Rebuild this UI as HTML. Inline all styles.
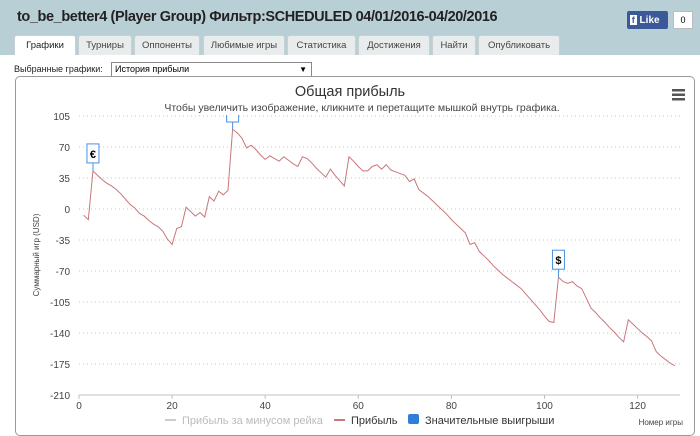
<!DOCTYPE html>
<html><head><meta charset="utf-8"><style>
body{margin:0;width:700px;height:427px;overflow:hidden;background:#fff;font-family:"Liberation Sans","DejaVu Sans",sans-serif;position:relative}
#hdr{position:absolute;left:0;top:0;width:700px;height:55px;background:#b9cfd6}
#title{position:absolute;left:17px;top:9px;font-size:14.5px;font-weight:bold;color:#222;letter-spacing:-0.4px}
.tab{position:absolute;top:35px;height:20px;background:#e9eced;border:1px solid #c8d0d3;border-bottom:none;border-radius:3px 3px 0 0;font-size:9.5px;color:#444;text-align:center;line-height:20px;box-sizing:border-box}
.tab.act{background:#fff;color:#222}
#fb{position:absolute;left:627px;top:11px;width:41px;height:18px;background:#3b5998;border-radius:2px;color:#fff;font-size:10px;font-weight:bold;line-height:18px}
#fbc{position:absolute;left:673px;top:11px;width:20px;height:18px;background:#fff;border:1px solid #bbb;box-sizing:border-box;font-size:9px;text-align:center;line-height:16px}
#sel-label{position:absolute;left:14px;top:64px;font-size:9px;color:#222}
#sel{position:absolute;left:111px;top:62px;width:196px;height:13px;border:1px solid #888;font-size:9px;line-height:13px;padding-left:3px;box-sizing:content-box}
#panel{position:absolute;left:15px;top:76px;width:680px;height:360px;border:1px solid #999;border-radius:5px;box-sizing:border-box}
</style></head><body>
<div id="hdr"></div>
<div id="title">to_be_better4 (Player Group) Фильтр:SCHEDULED 04/01/2016-04/20/2016</div>
<div id="fb">&nbsp;<span style="background:#fff;color:#3b5998;padding:0 2px;font-size:9px">f</span> Like</div>
<div id="fbc">0</div>
<div class="tab act" style="left:14px;width:62px">Графики</div>
<div class="tab" style="left:78px;width:54px">Турниры</div>
<div class="tab" style="left:134px;width:66px">Оппоненты</div>
<div class="tab" style="left:203px;width:82px">Любимые игры</div>
<div class="tab" style="left:287px;width:69px">Статистика</div>
<div class="tab" style="left:358px;width:72px">Достижения</div>
<div class="tab" style="left:432px;width:44px">Найти</div>
<div class="tab" style="left:478px;width:82px">Опубликовать</div>
<div id="sel-label">Выбранные графики:</div>
<div id="sel">История прибыли<span style="position:absolute;right:4px;font-size:8px">▼</span></div>
<div id="panel"></div>
<svg id="chart" width="700" height="427" style="position:absolute;left:0;top:0"></svg>
<script>
const categoriesX = [0,20,40,60,80,100,120];
const yTicks = [105,70,35,0,-35,-70,-105,-140,-175,-210];
const profit = [-7,-12,43,38,33,29,26,22,17,11,5,1,-5,-8,-13,-17,-20,-25,-34,-40,-22,-20,2,-3,-8,-4,-9,14,9,20,16,21,90,86,80,69,72,67,61,56,60,57,54,59,55,51,48,59,57,52,46,41,36,45,38,32,26,59,54,48,43,43,48,50,45,50,44,42,40,38,31,34,22,18,14,9,4,-1,-6,-12,-17,-22,-27,-40,-38,-48,-53,-58,-64,-69,-74,-78,-82,-86,-90,-96,-102,-108,-114,-121,-127,-128,-77,-82,-84,-82,-87,-90,-101,-112,-117,-123,-128,-134,-139,-145,-150,-125,-130,-135,-140,-144,-149,-161,-166,-170,-174,-177];
const flagGames = [3,33,103];
const flagLabels = ["€","",  "$"];
const NS="http://www.w3.org/2000/svg";
const svg=document.getElementById('chart');
const X=g=>79+g*4.655;
const Y=v=>209-v*0.8857;
function el(t,a,txt){const e=document.createElementNS(NS,t);for(const k in a)e.setAttribute(k,a[k]);if(txt!==undefined)e.textContent=txt;svg.appendChild(e);return e;}
let e;
e=el('text',{x:350,y:96,'text-anchor':'middle','font-size':14.5,fill:'#333'},'Общая прибыль');


e=el('text',{x:362,y:111,'text-anchor':'middle','font-size':10.5,fill:'#444'},'Чтобы увеличить изображение, кликните и перетащите мышкой внутрь графика.');


for(let i=0;i<3;i++){
  e=el('rect',{x:672,y:89+i*4.5,width:13,height:2.5,fill:'#555'});
  
  
}
yTicks.forEach(v=>{
  if(v!==-210){e=el('line',{x1:79,x2:680,y1:Y(v),y2:Y(v),stroke:'#c8c8c8','stroke-dasharray':'1,3'});
  
  }
  e=el('text',{x:70,y:Y(v)+4,'text-anchor':'end','font-size':10,fill:'#444'},String(v));
  
  
});
e=el('line',{x1:79,x2:680,y1:Y(-210),y2:Y(-210),stroke:'#c0c0c0'});


categoriesX.forEach(g=>{
  el('line',{x1:X(g),x2:X(g),y1:Y(-210),y2:Y(-210)+4,stroke:'#c0c0c0'});
  e=el('text',{x:X(g),y:409,'text-anchor':'middle','font-size':10,fill:'#444'},g);
  
  
});
e=el('text',{x:0,y:0,transform:'translate(39,255) rotate(-90)','text-anchor':'middle','font-size':8,fill:'#444'},'Суммарный игр (USD)');


e=el('text',{x:683,y:425,'text-anchor':'end','font-size':8,fill:'#444'},'Номер игры');


e=el('polyline',{points:profit.map((v,i)=>X(i+1)+','+Y(v)).join(' '),fill:'none',stroke:'#c8777a','stroke-width':1});


flagGames.forEach((g,i)=>{
  const px=X(g),py=Y(profit[g-1]);
  if(i===1){
    el('line',{x1:px,x2:px,y1:122,y2:py,stroke:'#4a90e2'});
    e=el('path',{d:`M${px-6},115 V122 H${px+6} V115`,fill:'#fff',stroke:'#4a90e2'});
  } else {
    const top=py-27;
    el('line',{x1:px,x2:px,y1:top+19,y2:py,stroke:'#4a90e2'});
    e=el('rect',{x:px-6,y:top,width:12,height:19,fill:'#fff',stroke:'#4a90e2'});
  }
  
  
  if(flagLabels[i])el('text',{x:px,y:py-13,'text-anchor':'middle','font-size':11,'font-weight':'bold',fill:'#000'},flagLabels[i]);
});
e=el('line',{x1:165,x2:176,y1:420,y2:420,stroke:'#ccc','stroke-width':2});


e=el('text',{x:182,y:424,'font-size':11,fill:'#bbb'},'Прибыль за минусом рейка');


e=el('line',{x1:334,x2:345,y1:420,y2:420,stroke:'#c8777a','stroke-width':2});


e=el('text',{x:351,y:424,'font-size':11,fill:'#333'},'Прибыль');


e=el('rect',{x:408,y:414,width:11,height:10,rx:2,fill:'#2f7ed8'});


e=el('text',{x:425,y:424,'font-size':11,fill:'#333'},'Значительные выигрыши');


</script>
</body></html>
